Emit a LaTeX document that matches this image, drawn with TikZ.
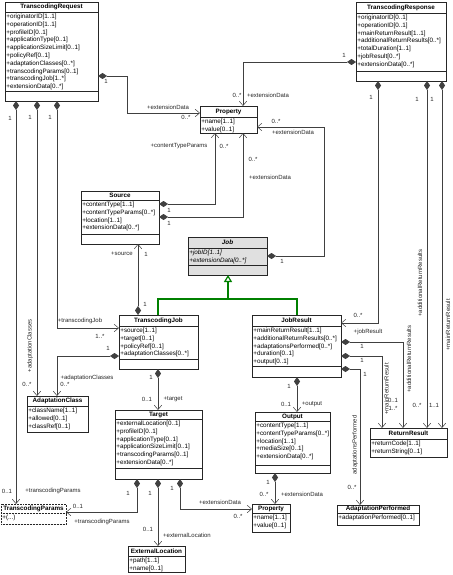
\documentclass[tikz,border=0pt]{standalone}
\usepackage{fontspec}
\setmainfont{Liberation Sans}
\usetikzlibrary{arrows.meta}

\tikzset{
  classbox/.style={draw=black!85, fill=white, line width=0.5pt, inner sep=0pt, outer sep=0pt},
  boxextra/.style={},
  classname/.style={font=\fontsize{6.3}{7.8}\selectfont\bfseries, inner sep=0pt},
  attrtext/.style={font=\fontsize{6.3}{7.8}\selectfont, align=left, inner sep=0pt},
  lbl/.style={font=\fontsize{6}{7}\selectfont, inner sep=0pt, text=black!85},
  assoc/.style={draw=black!75, line width=0.5pt, {Diamond[length=9pt,width=6pt]}-{Straight Barb[length=4.5pt,width=7.5pt]}},
  genline/.style={draw=green!50!black, line width=1.2pt},
}

% class box: name, left, top, right, bottom, first separator, second separator, title, attributes
\newcommand{\umlclass}[9]{%
  \node[classbox, boxextra, anchor=north west, minimum width={#4-#2}, minimum height={#5-#3}] (#1) at (#2,#3) {};
  \node[classname] (#1t) at ({(#2+#4)/2},{(#3+#6)/2}) {#8};
  \draw[draw=black!85, line width=0.5pt, boxextra] (#2,#6) -- (#4,#6);
  \draw[draw=black!85, line width=0.5pt, boxextra] (#2,#7) -- (#4,#7);
  \node[attrtext, anchor=north west] (#1a) at ({#2+1.2},{#6+1.8}) {#9};
}

\begin{document}
\begin{tikzpicture}[x=1pt, y=-1pt]
\useasboundingbox (0,0) rectangle (452,575);

% Classes
\umlclass{TR}{5}{2}{98}{101}{12}{91}{TranscodingRequest}{+originatorID[1..1]\\+operationID[1..1]\\+profileID[0..1]\\+applicationType[0..1]\\+applicationSizeLimit[0..1]\\+policyRef[0..1]\\+adaptationClasses[0..*]\\+transcodingParams[0..1]\\+transcodingJob[1..*]\\+extensionData[0..*]}
\umlclass{TResp}{356}{2}{446}{81}{13}{71}{TranscodingResponse}{+originatorID[0..1]\\+operationID[0..1]\\+mainReturnResult[1..1]\\+additionalReturnResults[0..*]\\+totalDuration[1..1]\\+jobResult[0..*]\\+extensionData[0..*]}
\umlclass{PropTop}{200}{106}{257}{133}{117}{133}{Property}{+name[1..1]\\+value[0..1]}
\umlclass{Source}{81}{191}{159}{244}{200}{234}{Source}{+contentType[1..1]\\+contentTypeParams[0..*]\\+location[1..1]\\+extensionData[0..*]}
\begin{scope}[boxextra/.style={fill=black!12}]
\umlclass{Job}{188}{237}{267}{275}{248}{265}{\textit{Job}}{\itshape +jobID[1..1]\\\itshape +extensionData[0..*]}
\end{scope}
\umlclass{TJ}{119}{315}{198}{369}{326}{359}{TranscodingJob}{+source[1..1]\\+target[0..1]\\+policyRef[0..1]\\+adaptationClasses[0..*]}
\umlclass{JR}{252}{315}{341}{377}{326}{366}{JobResult}{+mainReturnResult[1..1]\\+additionalReturnResults[0..*]\\+adaptationsPerformed[0..*]\\+duration[0..1]\\+output[0..1]}
\umlclass{AC}{27}{396}{88}{432}{406}{432}{AdaptationClass}{+className[1..1]\\+allowed[0..1]\\+classRef[0..1]}
\umlclass{Target}{115}{410}{202}{479}{419}{468}{Target}{+externalLocation[0..1]\\+profileID[0..1]\\+applicationType[0..1]\\+applicationSizeLimit[0..1]\\+transcodingParams[0..1]\\+extensionData[0..*]}
\umlclass{Output}{255}{412}{330}{473}{421}{465}{Output}{+contentType[1..1]\\+contentTypeParams[0..*]\\+location[1..1]\\+mediaSize[0..1]\\+extensionData[0..*]}
\umlclass{RR}{370}{428}{447}{457}{439}{457}{ReturnResult}{+returnCode[1..1]\\+returnString[0..1]}
\begin{scope}[boxextra/.style={densely dotted}]
\umlclass{TP}{1}{504}{66}{524}{513}{524}{TranscodingParams}{+(...)}
\end{scope}
\umlclass{AP}{337}{505}{419}{525}{513}{525}{AdaptationPerformed}{+adaptationPerformed[0..1]}
\umlclass{EL}{128}{546}{185}{572}{556}{572}{ExternalLocation}{+path[1..1]\\+name[0..1]}
\umlclass{PropBot}{252}{504}{290}{532}{513}{532}{Property}{+name[1..1]\\+value[0..1]}

% Generalization
\coordinate (genjoin) at (228,299);
\draw[genline] (TJ.north -| 158,0) |- (297,299) -- (JR.north -| 297,0);
\draw[genline, -{Triangle[open, length=7pt, width=8pt]}] (genjoin) -- (Job.south -| genjoin);

% Associations from TranscodingRequest
\draw[assoc] (TR.east |- 0,76) -- (127,76) |- (PropTop.west |- 0,113);
\node[lbl] (c1a) at (106,81) {1};
\node[lbl] (c1b) at (168,107) {+extensionData};
\node[lbl] (c1c) at (186,117) {0..*};
\draw[assoc] (TR.south -| 57,0) |- (TJ.west |- 0,328);
\node[lbl] (c7a) at (50,117) {1};
\node[lbl] (c7b) at (80,321) {+transcodingJob};
\node[lbl] (c7c) at (100,336) {1..*};
\draw[assoc] (TR.south -| 37,0) -- (AC.north -| 37,0);
\node[lbl] (c9a) at (30,117) {1};
\node[lbl, rotate=90] (c9b) at (30,346) {+adaptationClasses};
\node[lbl] (c9c) at (27,384) {0..*};
\draw[assoc] (TR.south -| 16,0) -- (TP.north -| 16,0);
\node[lbl] (c10a) at (10,118) {1};
\node[lbl] (c10b) at (7,491) {0..1};
\node[lbl] (c10c) at (53,491) {+transcodingParams};

% Associations from TranscodingResponse
\draw[assoc] (TResp.west |- 0,62) -| (PropTop.north -| 243,0);
\node[lbl] (c2a) at (344,55) {1};
\node[lbl] (c2b) at (237,95) {0..*};
\node[lbl] (c2c) at (268,95) {+extensionData};
\draw[assoc] (TResp.south -| 378,0) |- (JR.east |- 0,323);
\node[lbl] (c17a) at (371,97) {1};
\node[lbl] (c17b) at (358,315) {0..*};
\node[lbl] (c17c) at (368,332) {+jobResult};
\draw[assoc] (TResp.south -| 427,0) -- (RR.north -| 427,0);
\node[lbl] (c21a) at (417,99) {1};
\node[lbl, rotate=90] (c21b) at (420,283) {+additionalReturnResults};
\node[lbl] (c21c) at (417,405) {0..*};
\draw[assoc] (TResp.south -| 442,0) -- (RR.north -| 442,0);
\node[lbl] (c22a) at (432,99) {1};
\node[lbl, rotate=90] (c22b) at (448,325) {+mainReturnResult};
\node[lbl] (c22c) at (434,405) {1..1};

% Associations from Source and Job
\draw[assoc] (Source.east |- 0,204) -| (PropTop.south -| 215,0);
\node[lbl] (c3a) at (169,210) {1};
\node[lbl] (c3b) at (179,146) {+contentTypeParams};
\node[lbl] (c3c) at (224,146) {0..*};
\draw[assoc] (Source.east |- 0,217) -| (PropTop.south -| 243,0);
\node[lbl] (c4a) at (169,223) {1};
\node[lbl] (c4b) at (253,159) {0..*};
\node[lbl] (c4c) at (270,177) {+extensionData};
\draw[assoc] (Job.east |- 0,256) -- (324,256) |- (PropTop.east |- 0,127);
\node[lbl] (c5a) at (282,261) {1};
\node[lbl] (c5b) at (276,121) {0..*};
\node[lbl] (c5c) at (293,132) {+extensionData};

% Associations from TranscodingJob
\draw[assoc] (TJ.north -| 138,0) -- (Source.south -| 138,0);
\node[lbl] (c6a) at (145,304) {1};
\node[lbl] (c6b) at (122,254) {+source};
\node[lbl] (c6c) at (146,254) {1};
\draw[assoc] (TJ.west |- 0,356) -| (AC.north -| 57,0);
\node[lbl] (c8a) at (108,348) {1};
\node[lbl] (c8b) at (87,378) {+adaptationClasses};
\node[lbl] (c8c) at (65,384) {0..*};
\draw[assoc] (TJ.south -| 158,0) -- (Target.north -| 158,0);
\node[lbl] (c12a) at (151,377) {1};
\node[lbl] (c12b) at (147,399) {0..1};
\node[lbl] (c12c) at (173,399) {+target};

% Associations from Target
\draw[assoc] (Target.south -| 137,0) |- (TP.east |- 0,512);
\node[lbl] (c11a) at (128,493) {1};
\node[lbl] (c11b) at (78,506) {0..1};
\node[lbl] (c11c) at (102,522) {+transcodingParams};
\draw[assoc] (Target.south -| 158,0) -- (EL.north -| 158,0);
\node[lbl] (c13a) at (150,493) {1};
\node[lbl] (c13b) at (148,529) {0..1};
\node[lbl] (c13c) at (187,535) {+externalLocation};
\draw[assoc] (Target.south -| 180,0) |- (PropBot.west |- 0,509);
\node[lbl] (c14a) at (172,488) {1};
\node[lbl] (c14b) at (220,502) {+extensionData};
\node[lbl] (c14c) at (238,516) {0..*};

% Associations from JobResult and Output
\draw[assoc] (JR.south -| 297,0) -- (Output.north -| 297,0);
\node[lbl] (c16a) at (289,386) {1};
\node[lbl] (c16b) at (286,404) {0..1};
\node[lbl] (c16c) at (312,404) {+output};
\draw[assoc] (Output.south -| 275,0) -- (PropBot.north -| 275,0);
\node[lbl] (c15a) at (268,482) {1};
\node[lbl] (c15b) at (264,494) {0..*};
\node[lbl] (c15c) at (302,494) {+extensionData};
\draw[assoc] (JR.east |- 0,342) -| (RR.north -| 403,0);
\node[lbl] (c18a) at (362,346) {1};
\node[lbl, rotate=90] (c18b) at (409,359) {+additionalReturnResults};
\node[lbl] (c18c) at (393,408) {1..*};
\node[lbl] (c18d) at (393,400) {0..1};
\draw[assoc] (JR.east |- 0,356) -| (RR.north -| 382,0);
\node[lbl] (c19a) at (362,360) {1};
\node[lbl, rotate=90] (c19b) at (386.5,389) {+mainReturnResult};
\draw[assoc] (JR.east |- 0,369) -| (AP.north -| 360,0);
\node[lbl] (c20a) at (365,374) {1};
\node[lbl, rotate=90] (c20b) at (355,445) {adaptationsPerformed};
\node[lbl] (c20c) at (352,487) {0..*};

\end{tikzpicture}
\end{document}
